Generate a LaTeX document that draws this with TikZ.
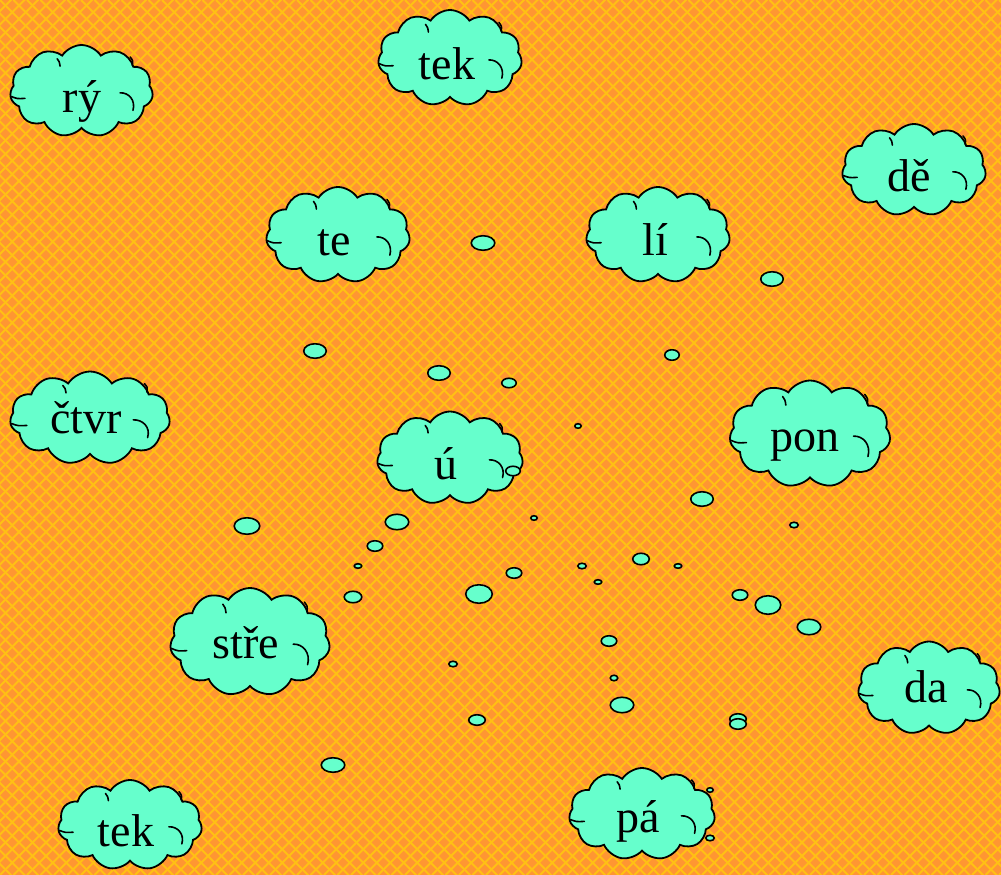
\documentclass[tikz,border=0pt]{standalone}
\usepackage{fontspec}
\setmainfont{Liberation Serif}
\usetikzlibrary{shapes.symbols,shapes.geometric}
\definecolor{bgorange}{RGB}{255,150,50}
\definecolor{hatchyellow}{RGB}{255,192,20}
\definecolor{cloudgreen}{RGB}{102,255,204}
\tikzset{
  hatch/.style={draw=hatchyellow,line width=2pt},
  cloudbox/.style={cloud,cloud puffs=11,cloud puff arc=115,cloud ignores aspect,
    draw=black,line width=1.8pt,fill=cloudgreen,inner sep=0pt},
  innerarc/.style={draw=black,line width=1.6pt,line cap=round},
  word/.style={anchor=base,inner sep=0pt,font=\fontsize{46}{46}\selectfont},
  bub/.style={ellipse,draw=black,line width=1.6pt,fill=cloudgreen,inner sep=0pt}
}
\newcommand\cloudword[8]{%
  \node[cloudbox,minimum width=#4pt,minimum height=#5pt] (#1) at (#2,#3) {};
  \begin{scope}[shift={(#1.center)},xscale=#4/2,yscale=#5/2]
    \draw[innerarc] (-0.98,0.12) .. controls (-0.90,0.17) .. (-0.79,0.16);
    \draw[innerarc] (0.68,-0.74) .. controls (0.72,-0.66) .. (0.71,-0.56);
    \draw[innerarc] (0.54,0.04) .. controls (0.66,0.03) and (0.76,0.20) .. (0.72,0.42);
    \draw[innerarc] (-0.34,-0.70) .. controls (-0.31,-0.64) .. (-0.30,-0.54);
  \end{scope}
  \node[word] (#1t) at (#6,#7) {#8};
}
\begin{document}
\begin{tikzpicture}[x=1pt,y=-1pt]
\useasboundingbox (0,0) rectangle (1001,875);
\fill[bgorange] (0,0) rectangle (1001,875);
\begin{scope}
  \clip (0,0) rectangle (1001,875);
  \foreach \i in {-891,-877.5,...,1015} {
    \draw[hatch] (\i,0) -- ++(880,880);
    \draw[hatch] (\i,875) -- ++(880,-880);
  }
\end{scope}
% clouds
\cloudword{c1}{81.5}{91}{143}{92}{82}{112}{rý}
\cloudword{c2}{450}{58}{144}{96}{447}{79}{tek}
\cloudword{c3}{914}{170}{144}{92}{909}{191}{dě}
\cloudword{c4}{338}{235}{144}{96}{334}{255}{te}
\cloudword{c5}{658}{235}{144}{96}{655}{255}{lí}
\cloudword{c6}{90}{418}{160}{93}{86}{433}{čtvr}
\cloudword{c7}{450}{458}{146}{93}{446}{479}{ú}
\cloudword{c8}{810}{434}{161}{107}{805}{451}{pon}
\cloudword{c9}{250}{642}{160}{108}{246}{658}{stře}
\cloudword{c10}{929}{688}{142}{93}{926}{702}{da}
\cloudword{c11}{130}{825}{144}{90}{126}{846}{tek}
\cloudword{c12}{642}{814}{146}{92}{638}{832}{pá}
% bubbles
\foreach \x/\y/\a/\b [count=\k] in {
  483/243/12.5/8, 772/279/12/8, 315/351/12/8, 672/355/8/6, 439/373/12/8,
  509/383/8/5.5, 578/426/4/3, 513/471/8/5.5, 702/499/12/8, 794/525/5/3.5,
  247/526/13.5/9, 397/522/12.5/8.5, 534/518/4/3, 375/546/8.5/6, 358/566/4.5/3,
  641/559/9/6.5, 582/566/5/3.5, 678/566/4.5/3, 514/573/8.5/6, 598/582/4.5/3,
  479/594/14/10, 353/597/9.5/6.5, 740/595/8.5/6, 768/605/13.5/10, 809/627/12.5/8.5,
  609/641/8.5/6, 614/678/4.5/3.5, 453/664/5/3.5, 622/705/12.5/8.5, 738/719/9/6,
  738/724/9/6, 477/720/9/6, 333/765/12.5/8, 710/790/4/3, 710/838/5/3.5}
  \node[bub,minimum width={2*\a*1pt-1.5pt},minimum height={2*\b*1pt-1.5pt}] (b\k) at (\x,\y) {};
\end{tikzpicture}
\end{document}
